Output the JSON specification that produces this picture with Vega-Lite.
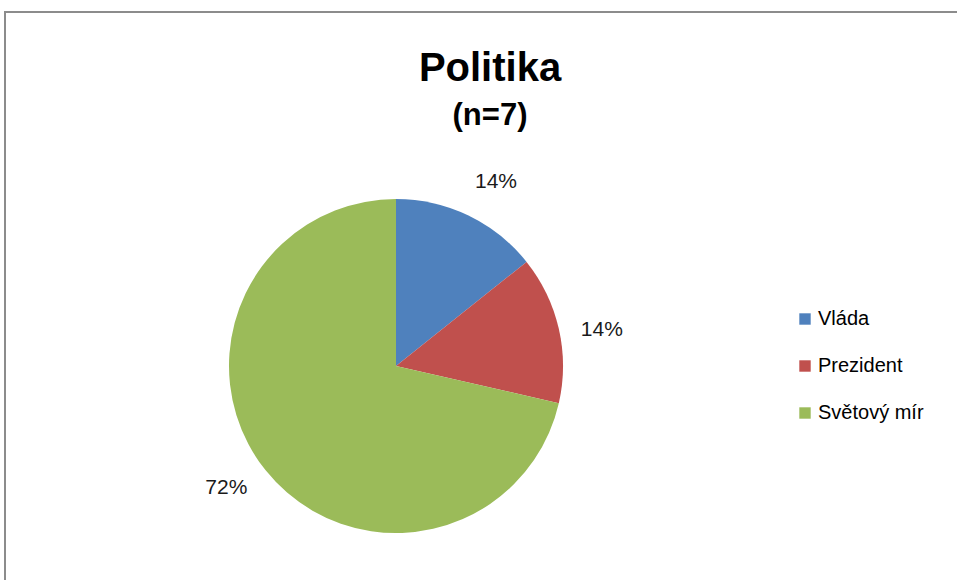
{
  "$schema": "https://vega.github.io/schema/vega-lite/v6.json",
  "width": 970,
  "height": 575,
  "autosize": "none",
  "padding": {"left": 5, "top": 12, "right": 0, "bottom": 0},
  "background": "white",
  "view": {"stroke": "#8c8c8c", "strokeWidth": 2},
  "config": {
    "font": "Liberation Sans"
  },
  "title": {
    "text": "Politika",
    "subtitle": "(n=7)",
    "anchor": "middle",
    "frame": "group",
    "orient": "top",
    "offset": -119,
    "font": "Liberation Sans",
    "fontSize": 40,
    "fontWeight": "bold",
    "color": "#000000",
    "subtitleFont": "Liberation Sans",
    "subtitleFontSize": 31,
    "subtitleFontWeight": "bold",
    "subtitleColor": "#000000",
    "subtitlePadding": 12
  },
  "data": {
    "values": [
      {"kategorie": "Vláda", "pocet": 1, "stitek": "14%", "poradi": 1},
      {"kategorie": "Prezident", "pocet": 1, "stitek": "14%", "poradi": 2},
      {"kategorie": "Světový mír", "pocet": 5, "stitek": "72%", "poradi": 3}
    ]
  },
  "encoding": {
    "theta": {"field": "pocet", "type": "quantitative", "stack": true},
    "order": {"field": "poradi", "type": "quantitative"},
    "color": {
      "field": "kategorie",
      "type": "nominal",
      "scale": {
        "domain": ["Vláda", "Prezident", "Světový mír"],
        "range": ["#4f81bd", "#c0504d", "#9bbb59"]
      },
      "legend": {
        "title": null,
        "orient": "none",
        "legendX": 790,
        "legendY": 297,
        "symbolType": "square",
        "symbolSize": 130,
        "symbolStrokeWidth": 0,
        "labelFont": "Liberation Sans",
        "labelFontSize": 20,
        "labelColor": "#000000",
        "labelOffset": 3,
        "rowPadding": 27,
        "padding": 0
      }
    }
  },
  "layer": [
    {
      "mark": {"type": "arc", "outerRadius": 167, "x": 391, "y": 354}
    },
    {
      "mark": {"type": "text", "radius": 209, "x": 391, "y": 354, "thetaOffset": 0.05, "fontSize": 21, "font": "Liberation Sans", "color": "#1a1a1a"},
      "encoding": {
        "text": {"field": "stitek", "type": "nominal"},
        "color": {"value": "#1a1a1a"}
      }
    }
  ]
}
